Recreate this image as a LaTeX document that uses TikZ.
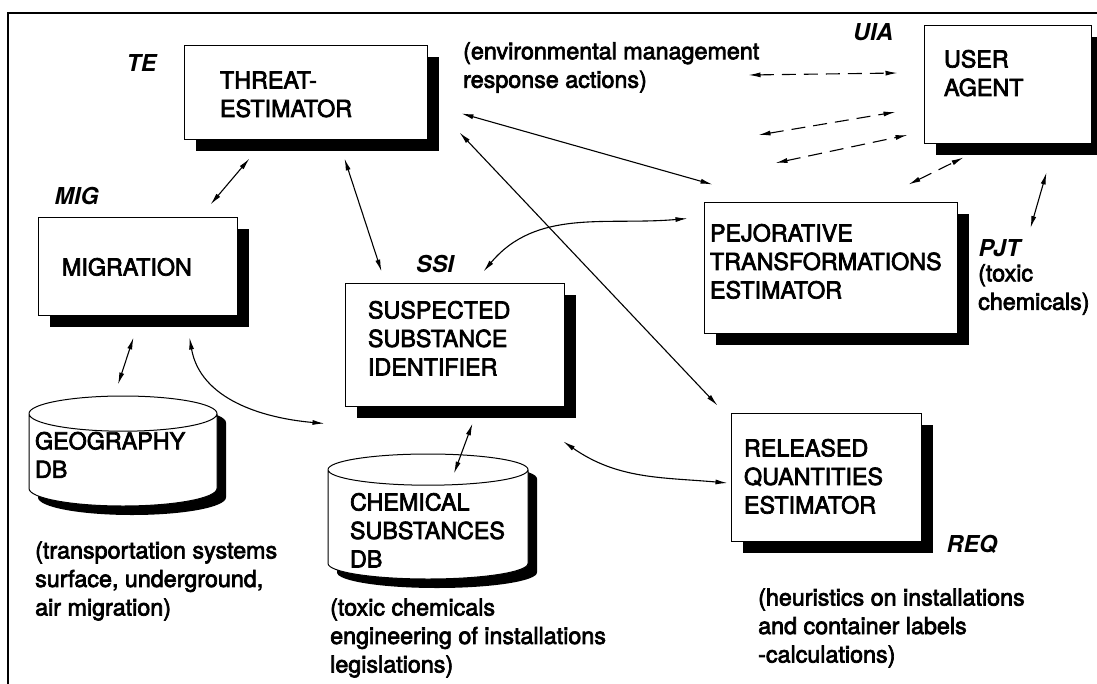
\documentclass[tikz,border=0pt]{standalone}
\usepackage{fontspec}
\setmainfont{TeX Gyre Heros}
\newfontfamily\heavyfont{TeX Gyre Heros}[FakeBold=3]
\usetikzlibrary{positioning,arrows.meta,shapes.geometric,shadows}

\begin{document}
\begin{tikzpicture}[x=1pt, y=1pt,
  font=\heavyfont\fontsize{23.3}{28.5}\selectfont,
  box/.style={draw, fill=white, line width=1pt, align=left, inner ysep=0pt,
    drop shadow={shadow xshift=12pt, shadow yshift=-12pt, fill=black, opacity=1}},
  db/.style={cylinder, shape border rotate=90, aspect=0.2, draw, fill=white, line width=1pt,
    align=left, inner sep=0pt, anchor=shape center,
    drop shadow={shadow xshift=9pt, shadow yshift=-9pt, fill=black, opacity=1}},
  tag/.style={font=\fontsize{23.3}{28.5}\selectfont\bfseries\itshape, inner sep=0pt},
  note/.style={align=left, anchor=west, inner sep=0pt},
  arr/.style={{Latex[length=12pt,width=5pt]}-{Latex[length=12pt,width=5pt]}, line width=1.1pt},
  darr/.style={arr, dash pattern=on 14pt off 8pt}]
\useasboundingbox (0,0) rectangle (1097,-683);
\draw[line width=1.2pt] (8,-13) rectangle (1130,-720);

% agents
\node[box, minimum width=243, text width=171, inner xsep=36, text height=43.4, text depth=50.6] (te) at (305.5,-92) {THREAT-\\ESTIMATOR};
\node[box, minimum width=199, text width=151, inner xsep=24, text height=58.4, text depth=39.6] (mig) at (137.5,-266) {MIGRATION};
\node[box, minimum width=219, text width=173, inner xsep=23, text height=35.4, text depth=87.6] (ssi) at (454.5,-344.5) {SUSPECTED\\SUBSTANCE\\IDENTIFIER};
\node[box, minimum width=167, text width=127, inner xsep=20, text height=42.4, text depth=75.6] (ua) at (1007.5,-84) {USER\\AGENT};
\node[box, minimum width=253, text width=241, inner xsep=6, text height=39.4, text depth=91.6] (pjt) at (830.5,-267.5) {PEJORATIVE\\TRANSFORMATIONS\\ESTIMATOR};
\node[box, minimum width=190, text width=164, inner xsep=13, text height=43.4, text depth=84.6] (req) at (826,-477) {RELEASED\\QUANTITIES\\ESTIMATOR};

% databases
\node[db, minimum width=188, minimum height=110, text width=176, text height=17, text depth=38.5] (geo) at (123,-451) {GEOGRAPHY\\DB};
\node[db, minimum width=200, minimum height=125, text width=156, text height=17, text depth=45.2] (chem) at (428,-516.5) {CHEMICAL\\SUBSTANCES\\DB};

% tags
\node[tag, left=27pt of te.west, yshift=29pt] (tetag) {TE};
\node[tag, above right=11.5pt and 17pt of mig.north west] (migtag) {MIG};
\node[tag, left=30pt of ua.north west, yshift=-8pt] (uatag) {UIA};
\node[tag, above=9.5pt of ssi.north, xshift=-19.5pt] (ssitag) {SSI};
\node[tag, right=21pt of pjt.east, yshift=19.5pt] (pjttag) {PJT};
\node[tag, right=25pt of req.south east, yshift=-3pt] (reqtag) {REQ};

% notes
\node[note] (tenote) at (463,-67.5) {(environmental management\\response actions)};
\node[note] (pjtnote) at (978,-289.5) {(toxic\\chemicals)};
\node[note] (geonote) at (35,-581) {(transportation systems\\surface, underground,\\air migration)};
\node[note] (chemnote) at (330,-638) {(toxic chemicals\\engineering of installations\\legislations)};
\node[note] (reqnote) at (758,-628) {(heuristics on installations\\and container labels\\-calculations)};

% links
\draw[arr] ([shift={(66,-19)}]te.south west) -- ([shift={(173,12)}]mig.north west);
\draw[arr] ([shift={(161,-19)}]te.south west) -- ([shift={(37,11)}]ssi.north west);
\draw[arr] ([shift={(34,26)}]te.south east) -- ([shift={(9,17)}]pjt.north west);
\draw[arr] ([shift={(32,7)}]te.south east) -- ([shift={(-13,7)}]req.north west);
\draw[arr] ([shift={(139,11)}]ssi.north west) to[out=50, in=185] ([shift={(-16,-17)}]pjt.north west);
\draw[arr] ([shift={(96,-22)}]mig.south west) -- ([shift={(-5,11)}]geo.north);
\draw[arr] ([shift={(152,-22)}]mig.south west) to[out=-80, in=175] ([shift={(-20,-17)}]ssi.south west);
\draw[arr] ([shift={(128,-17)}]ssi.south west) -- ([shift={(26,-20)}]chem.north);
\draw[arr] ([shift={(-1,-35)}]ssi.south east) to[out=-35, in=175] ([shift={(-3,-6)}]req.west);

% user agent links
\draw[darr] ([shift={(-175,9)}]ua.west) -- ([shift={(-26,11)}]ua.west);
\draw[darr] ([shift={(-165,-51)}]ua.west) -- ([shift={(-28,-28)}]ua.west);
\draw[darr] ([shift={(-148,-79)}]ua.west) -- ([shift={(-16,-51)}]ua.west);
\draw[darr] ([shift={(-49,17)}]pjt.north east) -- ([shift={(40,-14)}]ua.south west);
\draw[arr] ([shift={(31,20)}]pjttag.center) -- ([shift={(-45,-29)}]ua.south east);
\end{tikzpicture}
\end{document}
